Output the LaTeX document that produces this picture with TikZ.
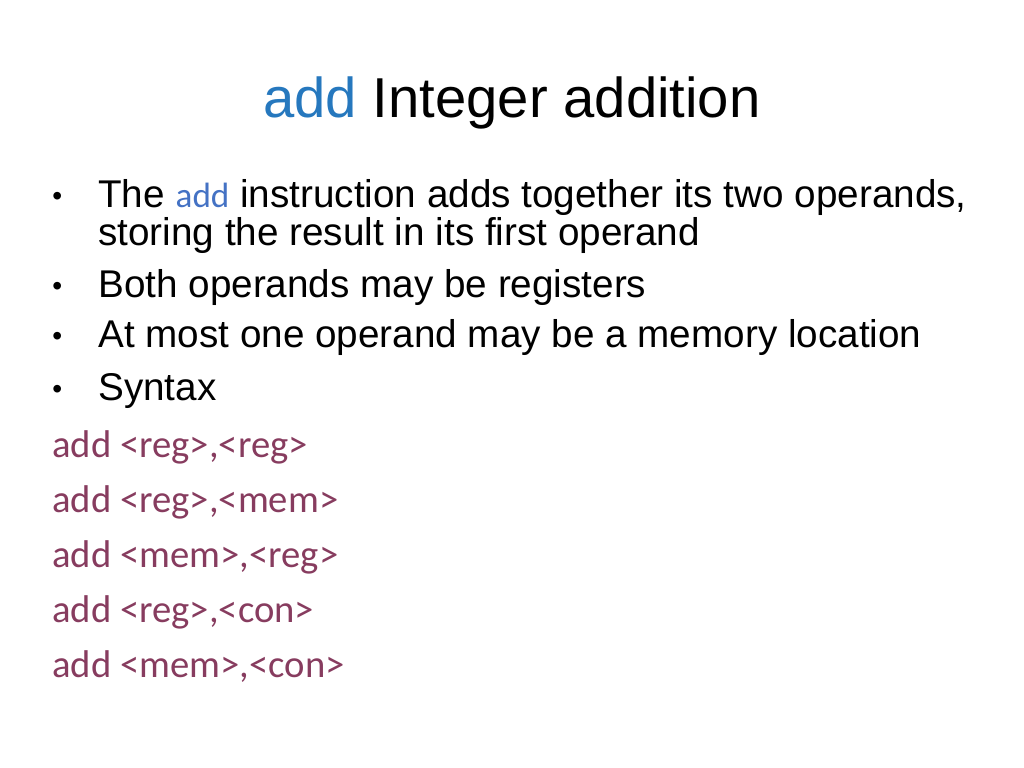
\documentclass[tikz,border=0pt]{standalone}
\usepackage{xcolor}
\usepackage{fontspec}
\setmainfont{Liberation Sans}
\newfontfamily\carlito{Carlito}
\definecolor{addblue}{RGB}{38,120,190}
\definecolor{codeblue}{RGB}{68,114,196}
\definecolor{synpurple}{RGB}{135,60,95}
\begin{document}
\begin{tikzpicture}[
    x=0.025cm, y=-0.025cm,
    title/.style={anchor=base, inner sep=0pt, font=\fontsize{40}{46}\selectfont},
    body/.style={anchor=base west, inner sep=0pt, font=\fontsize{27.5}{32}\selectfont},
    dot/.style={anchor=base west, inner sep=0pt, font=\fontsize{20}{24}\selectfont},
    syntax/.style={anchor=base west, inner sep=0pt, font=\carlito\fontsize{27.5}{32}\selectfont, text=synpurple}
]
    \useasboundingbox (0,0) rectangle (1024,768);
    % Title
    \node[title] (title) at (512,118) {\textcolor{addblue}{add} Integer addition};

    % Bullets
    \node[dot] (d1) at (52,205) {\textbullet};
    \node[body] (b1) at (98,207) {The {\carlito\fontsize{25}{30}\selectfont\textcolor{codeblue}{add}} instruction adds together its two operands,};
    \node[body] (b1b) at (98,245) {storing the result in its first operand};
    \node[dot] (d2) at (52,295) {\textbullet};
    \node[body] (b2) at (98,297) {Both operands may be registers};
    \node[dot] (d3) at (52,345) {\textbullet};
    \node[body] (b3) at (98,347) {At most one operand may be a memory location};
    \node[dot] (d4) at (52,398) {\textbullet};
    \node[body] (b4) at (98,400) {Syntax};

    % Syntax forms
    \node[syntax] (s1) at (52,457) {add <reg>,<reg>};
    \node[syntax] (s2) at (52,512) {add <reg>,<mem>};
    \node[syntax] (s3) at (52,567) {add <mem>,<reg>};
    \node[syntax] (s4) at (52,622) {add <reg>,<con>};
    \node[syntax] (s5) at (52,677) {add <mem>,<con>};
\end{tikzpicture}
\end{document}
